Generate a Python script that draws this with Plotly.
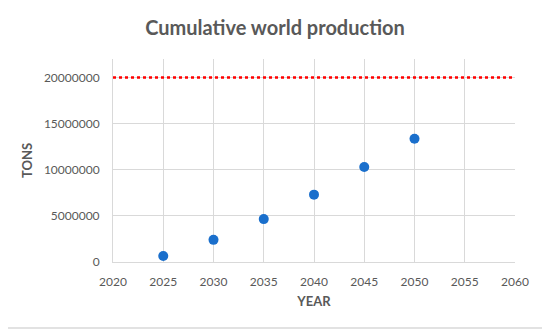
import plotly.graph_objects as go

years = [2025, 2030, 2035, 2040, 2045, 2050]
tons = [650000, 2400000, 4650000, 7300000, 10300000, 13350000]
limit_years = [2020, 2060]
limit_tons = [20000000, 20000000]

OFF = 8  # browser body margin
W, H = 550 - OFF, 334 - OFF
L, T = 113 - OFF, 59 - OFF
pw = 515 - 113
ph = 262 - 59
R, B = W - L - pw, H - T - ph

fig = go.Figure()
fig.add_trace(go.Scatter(x=limit_years, y=limit_tons, mode="lines",
                         line=dict(color="#FF0000", width=2.5, dash="dot"),
                         showlegend=False, hoverinfo="skip"))
fig.add_trace(go.Scatter(x=years, y=tons, mode="markers",
                         marker=dict(color="#1A6FCC", size=10),
                         showlegend=False))

font_fam = "Lato, Open Sans, sans-serif"
fig.update_layout(
    width=W, height=H,
    margin=dict(l=L, r=R, t=T, b=B),
    paper_bgcolor="white", plot_bgcolor="white",
    title=dict(text="<b>Cumulative world production</b>", x=(275 - OFF) / W, xanchor="center",
               y=1 - (28 - OFF) / H, yanchor="middle",
               font=dict(family=font_fam, size=20, color="#595959")),
    font=dict(family=font_fam, color="#595959", size=12),
    xaxis=dict(range=[2020, 2060], tickvals=list(range(2020, 2061, 5)),
               showgrid=True, gridcolor="#D9D9D9", gridwidth=1,
               zeroline=False, showline=True, linecolor="#D9D9D9",
               ticks="outside", ticklen=9, tickcolor="rgba(0,0,0,0)",
               tickfont=dict(size=12, color="#595959"),
               title=dict(text="<b>YEAR</b>", font=dict(size=13, color="#595959"), standoff=8)),
    yaxis=dict(range=[0, 22000000], tickvals=[0, 5000000, 10000000, 15000000, 20000000],
               ticktext=["0", "5000000", "10000000", "15000000", "20000000"],
               showgrid=True, gridcolor="#D9D9D9", gridwidth=1,
               zeroline=False, showline=True, linecolor="#D9D9D9",
               ticks="outside", ticklen=10, tickcolor="rgba(0,0,0,0)",
               tickfont=dict(size=12, color="#595959"),
               title=dict(text="<b>TONS</b>", font=dict(size=13, color="#595959"), standoff=8)),
    shapes=[dict(type="rect", xref="paper", yref="paper",
                 x0=(3 - 113) / pw, x1=(546 - 113) / pw,
                 y0=-(328 - 262) / ph, y1=1 + (59 - 3) / ph,
                 line=dict(color="#D9D9D9", width=1.5), layer="below")],
)

fig.write_html("out.html")
